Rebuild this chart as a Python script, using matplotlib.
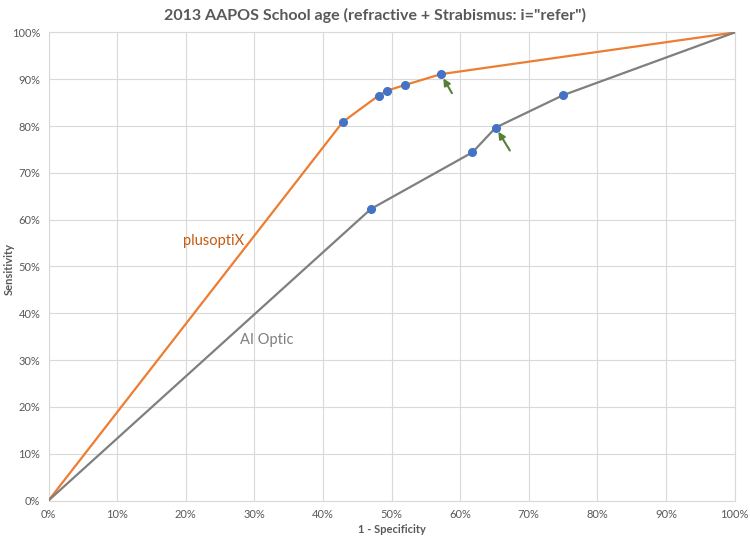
import numpy as np
import matplotlib.pyplot as plt
from matplotlib.ticker import PercentFormatter

# values (percent)
plus_x = [0, 42.9, 48.1, 49.4, 52.0, 57.2, 100]
plus_y = [0, 80.9, 86.5, 87.6, 88.8, 91.1, 100]
ai_x = [0, 47.0, 61.8, 65.2, 75.0, 100]
ai_y = [0, 62.3, 74.4, 79.7, 86.6, 100]
ticks = np.arange(0, 101, 10)

plt.rcParams['font.family'] = ['Lato', 'DejaVu Sans']

fig = plt.figure(figsize=(7.5, 5.38), dpi=100)
ax = fig.add_axes([0.0647, 0.0697, 0.9147, 0.8699])

orange = '#ED7D31'
grey = '#7F7F7F'
blue = '#4472C4'

ax.plot(plus_x, plus_y, color=orange, lw=1.6, marker='o', ms=5.5,
        mfc=blue, mec=blue, markevery=list(range(1, len(plus_x) - 1)), zorder=3)
ax.plot(ai_x, ai_y, color=grey, lw=1.6, marker='o', ms=5.5,
        mfc=blue, mec=blue, markevery=list(range(1, len(ai_x) - 1)), zorder=3)

# green arrows pointing at chosen cut-offs
arrow_kw = dict(arrowstyle='-|>,head_length=0.4,head_width=0.2', color='#548235',
                lw=1.5, shrinkA=0, shrinkB=3.5)
ax.annotate('', xy=(plus_x[5], plus_y[5]), xytext=(11, -19),
            textcoords='offset pixels', arrowprops=arrow_kw)
ax.annotate('', xy=(ai_x[3], ai_y[3]), xytext=(14, -23),
            textcoords='offset pixels', arrowprops=arrow_kw)

ax.text(19.6, 55.5, 'plusoptiX', color='#C55A11', fontsize=10.5, va='center', ha='left')
ax.text(27.9, 34.4, 'AI Optic', color=grey, fontsize=10.5, va='center', ha='left')

ax.set_xlim(0, 100)
ax.set_ylim(0, 100)
ax.set_xticks(ticks)
ax.set_yticks(ticks)
ax.xaxis.set_major_formatter(PercentFormatter(decimals=0))
ax.yaxis.set_major_formatter(PercentFormatter(decimals=0))
ax.tick_params(length=0, labelsize=8, labelcolor='#595959', pad=6)
ax.grid(True, color='#D9D9D9', lw=0.8)
ax.set_axisbelow(True)
for s in ax.spines.values():
    s.set_color('#D9D9D9')
    s.set_linewidth(0.8)

ax.set_xlabel('1 - Specificity', fontsize=8, fontweight='bold', color='#595959', labelpad=3)
fig.text(0.013, 0.5, 'Sensitivity', rotation=90, ha='center', va='center',
         fontsize=8, fontweight='bold', color='#595959')
fig.text(0.5, 0.972, '2013 AAPOS School age (refractive + Strabismus: i="refer")',
         ha='center', va='center', fontsize=11.5, fontweight='bold', color='#595959')

fig.savefig('out.png', dpi=100)
